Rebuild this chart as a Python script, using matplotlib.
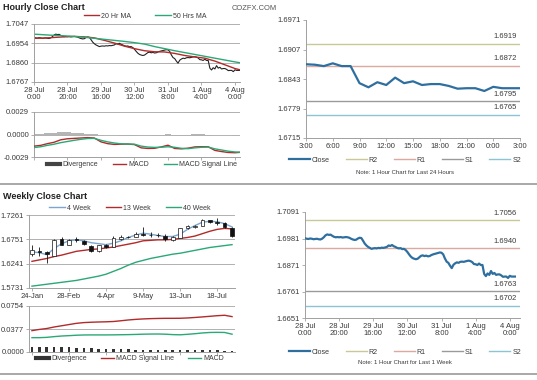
import matplotlib

matplotlib.use("Agg")
import matplotlib.pyplot as plt
from matplotlib.lines import Line2D

plt.rcParams["font.family"] = ["Liberation Sans", "DejaVu Sans"]

# ---------------- hourly data: 28 Jul 0:00 .. 4 Aug 3:00 (weekend skipped) ----------------
hourly_close = [
    1.6982, 1.6980, 1.6979, 1.6981, 1.6980, 1.6978, 1.6979, 1.6980, 1.6978, 1.6977,
    1.6980, 1.6986, 1.6994, 1.6998, 1.6996, 1.6997, 1.6992, 1.6988, 1.6986, 1.6987,
    1.6986, 1.6987, 1.6985, 1.6986, 1.6987, 1.6986, 1.6984, 1.6980, 1.6977, 1.6975,
    1.6976, 1.6981, 1.6984, 1.6983, 1.6972, 1.6960, 1.6952, 1.6946, 1.6942, 1.6938,
    1.6940, 1.6941, 1.6940, 1.6942, 1.6941, 1.6943, 1.6942, 1.6944, 1.6946, 1.6952,
    1.6950, 1.6954, 1.6949, 1.6946, 1.6942, 1.6940, 1.6941, 1.6937, 1.6938, 1.6933,
    1.6925, 1.6915, 1.6906, 1.6900, 1.6897, 1.6895, 1.6897, 1.6903, 1.6909, 1.6911,
    1.6908, 1.6910, 1.6907, 1.6908, 1.6912, 1.6915, 1.6917, 1.6919, 1.6921, 1.6923,
    1.6922, 1.6915, 1.6898, 1.6885, 1.6880, 1.6868, 1.6858, 1.6872, 1.6878, 1.6882,
    1.6880, 1.6884, 1.6885, 1.6884, 1.6886, 1.6888, 1.6889, 1.6887, 1.6883, 1.6875,
    1.6874, 1.6871, 1.6877, 1.6871, 1.6871, 1.6834, 1.6825, 1.6836, 1.6830, 1.6846,
    1.6834, 1.6838, 1.6830, 1.6832, 1.6832, 1.6828, 1.6822, 1.6823, 1.6823, 1.6817,
    1.6826, 1.6823, 1.6823, 1.6823,
]
hour_tick_pos = [0, 20, 40, 60, 80, 100, 120]
hour_tick_labels = ["28 Jul\n0:00", "28 Jul\n20:00", "29 Jul\n16:00", "30 Jul\n12:00",
                    "31 Jul\n8:00", "1 Aug\n4:00", "4 Aug\n0:00"]

ma_hours = [0, 6, 12, 18, 24, 30, 36, 42, 48, 54, 60, 66, 72, 78, 84, 90, 96, 102, 108, 114, 120, 123]
ma20 = [1.6978, 1.6979, 1.6982, 1.6985, 1.6987, 1.6985, 1.6980, 1.6968, 1.6955, 1.6940, 1.6928,
        1.6918, 1.6913, 1.6912, 1.6905, 1.6895, 1.6888, 1.6882, 1.6868, 1.6850, 1.6832, 1.6826]
ma50 = [1.6998, 1.6995, 1.6992, 1.6990, 1.6987, 1.6983, 1.6978, 1.6973, 1.6968, 1.6963, 1.6957,
        1.6950, 1.6938, 1.6928, 1.6918, 1.6909, 1.6900, 1.6891, 1.6882, 1.6873, 1.6864, 1.6860]

macd_hours = [0, 4, 8, 12, 16, 20, 24, 28, 32, 36, 40, 44, 48, 52, 56, 60, 64, 68, 72, 76,
              80, 84, 88, 92, 96, 100, 104, 108, 112, 116, 120, 123]
macd_hr = [-0.00150, -0.00140, -0.00118, -0.00100, -0.00068, -0.00055, -0.00050, -0.00045,
           -0.00040, -0.00045, -0.00095, -0.00118, -0.00128, -0.00125, -0.00123, -0.00130,
           -0.00172, -0.00180, -0.00178, -0.00160, -0.00138, -0.00180, -0.00185, -0.00176,
           -0.00160, -0.00157, -0.00158, -0.00205, -0.00220, -0.00232, -0.00235, -0.00230]
signal_hr = [-0.00168, -0.00158, -0.00140, -0.00125, -0.00105, -0.00090, -0.00075, -0.00062,
             -0.00052, -0.00050, -0.00075, -0.00095, -0.00110, -0.00120, -0.00123, -0.00125,
             -0.00150, -0.00162, -0.00166, -0.00164, -0.00158, -0.00165, -0.00178, -0.00183,
             -0.00172, -0.00165, -0.00162, -0.00185, -0.00200, -0.00215, -0.00225, -0.00228]
diverg_hr = [0.00008, 0.00010, 0.00015, 0.00020, 0.00030, 0.00030, 0.00025, 0.00018,
             0.00012, 0.00005, -0.00010, -0.00018, -0.00018, -0.00010, -0.00005, -0.00008,
             -0.00020, -0.00018, -0.00012, -0.00005, 0.00005, -0.00010, -0.00010, -0.00005,
             0.00005, 0.00003, -0.00002, -0.00015, -0.00020, -0.00017, -0.00010, -0.00005]

# last 24 hours chart
day_tick_labels = ["3:00", "6:00", "9:00", "12:00", "15:00", "18:00", "21:00", "0:00", "3:00"]
day_levels = [1.6919, 1.6872, 1.6795, 1.6765]      # R2, R1, S1, S2
week_levels = [1.7056, 1.6940, 1.6763, 1.6702]     # R2, R1, S1, S2
level_names = ["R2", "R1", "S1", "S2"]

# ---------------- weekly data ----------------
week_tick_labels = ["24-Jan", "28-Feb", "4-Apr", "9-May", "13-Jun", "18-Jul"]
w_open = [1.6440, 1.6510, 1.6490, 1.6410, 1.6760, 1.6640, 1.6750, 1.6720, 1.6610, 1.6500,
          1.6630, 1.6600, 1.6760, 1.6810, 1.6800, 1.6870, 1.6840, 1.6850, 1.6830, 1.6740,
          1.6780, 1.6980, 1.7000, 1.7030, 1.7150, 1.7120, 1.7100, 1.6990]
w_close = [1.6520, 1.6490, 1.6440, 1.6740, 1.6640, 1.6740, 1.6730, 1.6650, 1.6500, 1.6630,
           1.6580, 1.6770, 1.6800, 1.6790, 1.6870, 1.6840, 1.6850, 1.6840, 1.6750, 1.6790,
           1.6980, 1.7020, 1.7020, 1.7150, 1.7110, 1.7100, 1.7000, 1.6820]
w_high = [1.6640, 1.6600, 1.6510, 1.6750, 1.6810, 1.6760, 1.6790, 1.6740, 1.6640, 1.6640,
          1.6650, 1.6830, 1.6840, 1.6830, 1.6900, 1.7000, 1.6900, 1.6890, 1.6860, 1.6820,
          1.6990, 1.7060, 1.7050, 1.7170, 1.7160, 1.7200, 1.7110, 1.7000]
w_low = [1.6400, 1.6400, 1.6260, 1.6400, 1.6630, 1.6630, 1.6700, 1.6630, 1.6480, 1.6490,
         1.6570, 1.6590, 1.6740, 1.6770, 1.6790, 1.6820, 1.6790, 1.6800, 1.6720, 1.6720,
         1.6770, 1.6960, 1.6990, 1.7020, 1.7090, 1.7050, 1.6980, 1.6810]
ma4w = [1.6490, 1.6470, 1.6430, 1.6560, 1.6660, 1.6720, 1.6740, 1.6720, 1.6680, 1.6660,
        1.6640, 1.6670, 1.6720, 1.6790, 1.6840, 1.6880, 1.6860, 1.6830, 1.6810, 1.6810,
        1.6860, 1.6960, 1.7040, 1.7110, 1.7130, 1.7120, 1.7080, 1.7010]
ma13w = [1.6290, 1.6320, 1.6350, 1.6390, 1.6420, 1.6460, 1.6500, 1.6520, 1.6540, 1.6550,
         1.6570, 1.6590, 1.6620, 1.6650, 1.6680, 1.6720, 1.6730, 1.6740, 1.6740, 1.6750,
         1.6770, 1.6790, 1.6820, 1.6870, 1.6920, 1.6960, 1.6980, 1.6970]
ma40w = [1.5770, 1.5790, 1.5810, 1.5830, 1.5850, 1.5870, 1.5890, 1.5920, 1.5950, 1.5980,
         1.6020, 1.6080, 1.6140, 1.6210, 1.6270, 1.6310, 1.6350, 1.6380, 1.6410, 1.6440,
         1.6460, 1.6490, 1.6520, 1.6550, 1.6580, 1.6600, 1.6620, 1.6640]
w_signal = [0.0350, 0.0370, 0.0385, 0.0410, 0.0430, 0.0450, 0.0470, 0.0482, 0.0488, 0.0492,
            0.0495, 0.0500, 0.0512, 0.0525, 0.0535, 0.0542, 0.0547, 0.0550, 0.0552, 0.0552,
            0.0553, 0.0558, 0.0566, 0.0575, 0.0585, 0.0595, 0.0602, 0.0580]
w_macd = [0.0235, 0.0235, 0.0240, 0.0252, 0.0262, 0.0268, 0.0275, 0.0279, 0.0280, 0.0280,
          0.0280, 0.0281, 0.0283, 0.0285, 0.0288, 0.0292, 0.0294, 0.0295, 0.0292, 0.0285,
          0.0282, 0.0290, 0.0300, 0.0312, 0.0320, 0.0322, 0.0320, 0.0292]
w_diverg = [0.0085, 0.0085, 0.0080, 0.0080, 0.0078, 0.0075, 0.0072, 0.0065, 0.0060, 0.0055,
            0.0050, 0.0048, 0.0045, 0.0042, 0.0040, 0.0038, 0.0036, 0.0035, 0.0035, 0.0034,
            0.0033, 0.0032, 0.0030, 0.0030, 0.0028, 0.0026, 0.0024, 0.0015]

RED = "#b22a2a"
GREEN = "#2aa876"
BLUE4 = "#7aa6cf"
CLOSE = "#2f6f9f"
LEVEL_COLORS = ["#c8c899", "#dba9a0", "#9a9a9a", "#8cc3d6"]
TXT = "#3a3a3a"
FS = 5.5
LFS = 5.0

W, H = 537, 380
fig = plt.figure(figsize=(W / 100, H / 100), dpi=100)


def px_axes(x0, y0, x1, y1):
    """axes from pixel box (top-left origin)"""
    return fig.add_axes([x0 / W, 1 - y1 / H, (x1 - x0) / W, (y1 - y0) / H])


def style(ax, grid=True):
    for s in ["top", "right"]:
        ax.spines[s].set_visible(False)
    for s in ["left", "bottom"]:
        ax.spines[s].set_color("#a0a0a0")
        ax.spines[s].set_linewidth(0.7)
    ax.tick_params(labelsize=FS, colors=TXT, length=2, width=0.5, pad=1.5)
    ax.tick_params(color="#909090")
    if grid:
        ax.yaxis.grid(True, color="#b0b0b0", lw=0.7)
        ax.set_axisbelow(True)


def fig_legend(ax, handles, labels, x, y, ncol, spacing=2.0, hlen=2.2):
    ax.legend(handles, labels, loc="center", bbox_to_anchor=(x / W, 1 - y / H),
              bbox_transform=fig.transFigure, ncol=ncol, frameon=False, fontsize=LFS,
              handlelength=hlen, handletextpad=0.3, columnspacing=spacing, labelcolor=TXT)


# ---------------- titles / separators ----------------
fig.text(3 / W, 1 - 8 / H, "Hourly Close Chart", fontsize=6.5, fontweight="bold",
         color="#222222", va="center")
fig.text(3 / W, 1 - 196 / H, "Weekly Close Chart", fontsize=6.5, fontweight="bold",
         color="#222222", va="center")
fig.text(254 / W, 1 - 8 / H, "COZFX.COM", fontsize=5.4, color="#555555", va="center",
         ha="center")
for yy in (184, 374):
    fig.add_artist(Line2D([0, 1], [1 - yy / H] * 2, transform=fig.transFigure,
                          color="#a8a8a8", lw=1.4))

hours = list(range(len(hourly_close)))

# ---------------- hourly price ----------------
ax = px_axes(34, 24, 240, 82)
style(ax)
ax.plot(hours, hourly_close, color="#222222", lw=0.8)
h20, = ax.plot(ma_hours, ma20, color=RED, lw=1.0)
h50, = ax.plot(ma_hours, ma50, color=GREEN, lw=1.0)
ax.set_xlim(0, 123)
ax.set_ylim(1.6767, 1.7047)
ax.set_yticks([1.6767, 1.6860, 1.6954, 1.7047])
ax.set_yticklabels(["1.6767", "1.6860", "1.6954", "1.7047"])
ax.set_xticks(hour_tick_pos)
ax.set_xticklabels(hour_tick_labels, linespacing=1.05)
fig_legend(ax, [h20, h50], ["20 Hr MA", "50 Hrs MA"], 145, 16, 2, 3.5)

# ---------------- hourly MACD ----------------
ax = px_axes(34, 112, 240, 157)
style(ax)
ax.bar(macd_hours, diverg_hr, width=4, color="#b5b5b5", zorder=2)
hm, = ax.plot(macd_hours, macd_hr, color=RED, lw=1.0, zorder=3)
hs, = ax.plot(macd_hours, signal_hr, color=GREEN, lw=1.0, zorder=3)
ax.set_xlim(0, 123)
ax.set_ylim(-0.0029, 0.0029)
ax.set_yticks([-0.0029, 0.0, 0.0029])
ax.set_yticklabels(["-0.0029", "0.0000", "0.0029"])
ax.set_xticks(hour_tick_pos)
ax.set_xticklabels([])
hd = Line2D([], [], color="#444444", lw=3)
fig_legend(ax, [hd, hm, hs], ["Divergence", "MACD", "MACD Signal Line"], 142, 165, 3,
           2.2, 1.9)


# ---------------- right side close + pivots ----------------
def pivot_panel(box, xs, ys, ylim, yticks, xticks, xlabels, levels, leg_y, note_y, note):
    ax = px_axes(*box)
    style(ax, grid=False)
    for lvl, col in zip(levels, LEVEL_COLORS):
        ax.axhline(lvl, color=col, lw=1.0, zorder=1)
        ax.annotate(f"{lvl:.4f}", xy=(0.985, lvl), xycoords=ax.get_yaxis_transform(),
                    xytext=(0, 2.5), textcoords="offset points", ha="right", va="bottom",
                    fontsize=FS, color=TXT)
    hc, = ax.plot(xs, ys, color=CLOSE, lw=1.6, zorder=3)
    ax.set_ylim(*ylim)
    ax.set_yticks(yticks)
    ax.set_yticklabels([f"{t:.4f}" for t in yticks])
    ax.set_xticks(xticks)
    ax.set_xticklabels(xlabels, linespacing=1.05)
    handles = [hc] + [Line2D([], [], color=c, lw=1.0) for c in LEVEL_COLORS]
    ax.legend(handles, ["Close"] + level_names, loc="center",
              bbox_to_anchor=(405 / W, 1 - leg_y / H),
              bbox_transform=fig.transFigure, ncol=5, frameon=False, fontsize=LFS,
              handlelength=3.0, handletextpad=0.3, columnspacing=2.3, labelcolor=TXT)
    fig.text(405 / W, 1 - note_y / H, note, fontsize=4.3,
             color=TXT, ha="center", va="center")
    return ax


day_close = hourly_close[-25:]
ax = pivot_panel((306, 20, 520, 138), list(range(25)), day_close, (1.6715, 1.6971),
                 [1.6715, 1.6779, 1.6843, 1.6907, 1.6971], list(range(0, 25, 3)),
                 day_tick_labels, day_levels, 160, 173,
                 "Note: 1 Hour Chart for Last 24 Hours")
ax.set_xlim(0, 24)

ax = pivot_panel((305, 212, 520, 318), hours, hourly_close, (1.6651, 1.7091),
                 [1.6651, 1.6761, 1.6871, 1.6981, 1.7091], hour_tick_pos,
                 hour_tick_labels, week_levels, 352, 363,
                 "Note: 1 Hour Chart for Last 1 Week")
ax.set_xlim(0, 126)

# ---------------- weekly candles ----------------
weeks = list(range(len(w_close)))
ax = px_axes(29, 215, 235, 288)
style(ax)
ax.vlines(weeks, w_low, w_high, color="#111111", lw=0.6, zorder=3)
body_h = [abs(c - o) for o, c in zip(w_open, w_close)]
body_b = [min(o, c) for o, c in zip(w_open, w_close)]
body_c = ["white" if c >= o else "#111111" for o, c in zip(w_open, w_close)]
ax.bar(weeks, body_h, bottom=body_b, width=0.5, color=body_c, edgecolor="#111111",
       lw=0.5, zorder=4)
l4, = ax.plot(weeks, ma4w, color=BLUE4, lw=1.0, zorder=2)
l13, = ax.plot(weeks, ma13w, color=RED, lw=1.0, zorder=2)
l40, = ax.plot(weeks, ma40w, color=GREEN, lw=1.0, zorder=2)
ax.set_xlim(-0.4, 27.4)
ax.set_ylim(1.5731, 1.7261)
ax.set_yticks([1.5731, 1.6241, 1.6751, 1.7261])
ax.set_yticklabels(["1.5731", "1.6241", "1.6751", "1.7261"])
ax.set_xticks(list(range(0, 26, 5)))
ax.set_xticklabels(week_tick_labels)
fig_legend(ax, [l4, l13, l40], ["4 Week", "13 Week", "40 Week"], 130, 208, 3, 2.2)

# ---------------- weekly MACD ----------------
ax = px_axes(29, 306, 235, 352)
style(ax)
ax.bar(weeks, w_diverg, width=0.35, color="#333333", zorder=2)
ls, = ax.plot(weeks, w_signal, color=RED, lw=1.0, zorder=3)
lm, = ax.plot(weeks, w_macd, color=GREEN, lw=1.0, zorder=3)
ax.set_xlim(-0.4, 27.4)
ax.set_ylim(0, 0.0754)
ax.set_yticks([0, 0.0377, 0.0754])
ax.set_yticklabels(["0.0000", "0.0377", "0.0754"])
ax.set_xticks(list(range(0, 26, 5)))
ax.set_xticklabels([])
hd2 = Line2D([], [], color="#333333", lw=3)
fig_legend(ax, [hd2, ls, lm], ["Divergence", "MACD Signal Line", "MACD"], 130, 359, 3,
           2.0, 1.9)

fig.savefig("out.png", dpi=100)
